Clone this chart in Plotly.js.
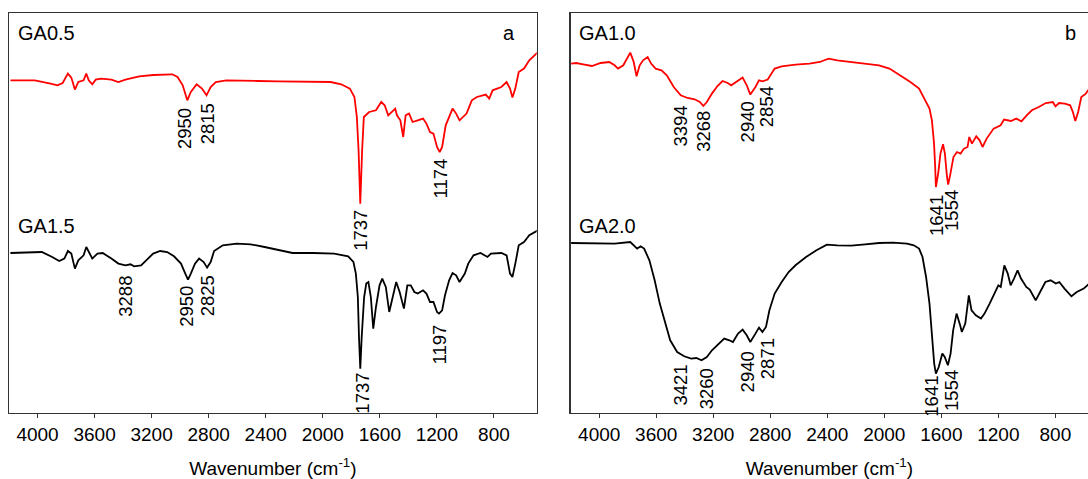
<!DOCTYPE html>
<html>
<head>
<meta charset="utf-8">
<script src="https://cdn.plot.ly/plotly-3.0.1.min.js"></script>
<style>html,body{margin:0;padding:0;background:#fff;}#chart{width:1088px;height:479px;}</style>
</head>
<body>
<div id="chart"></div>
<script>
// ---- Data (wavenumber in cm^-1, transmittance in arbitrary offset units) ----
const tickValues = [4000, 3600, 3200, 2800, 2400, 2000, 1600, 1200, 800];
const tickLabels = ["4000", "3600", "3200", "2800", "2400", "2000", "1600", "1200", "800"];
const axisTitle = "Wavenumber (cm<sup>-1</sup>)";
const seriesNames = ["GA0.5", "GA1.5", "GA1.0", "GA2.0"];
const panelLetters = ["a", "b"];

// GA0.5 (panel a, red)
const ga05_wn = [4190,4019,3909,3860,3824,3787,3763,3738,3714,3677,3658,3641,3616,3592,3555,3482,3433,3384,3287,3189,3055,3018,2982,2950,2925,2884,2847,2815,2786,2750,2676,2554,2457,2310,2066,1944,1871,1810,1778,1761,1749,1737,1724,1712,1675,1627,1590,1566,1541,1517,1492,1480,1456,1436,1419,1395,1370,1334,1297,1273,1248,1224,1199,1180,1163,1138,1090,1065,1041,992,955,919,857,833,809,748,711,687,670,650,626,589,552,491];
const ga05_t  = [332.7,332.7,329.4,327.7,330.0,339.4,335.4,323.4,331.0,332.7,339.4,332.7,328.7,333.4,334.4,333.4,331.0,333.4,336.7,338.0,338.7,336.0,327.7,312.7,321.0,328.7,324.4,317.7,326.0,331.0,332.7,332.7,332.0,331.7,331.7,331.0,328.7,324.4,316.0,296.0,262.7,209.4,262.7,296.0,301.0,302.7,311.0,307.7,297.7,301.0,304.4,297.7,292.7,276.0,297.7,299.4,291.0,292.7,294.4,289.4,281.0,279.4,266.0,261.0,266.0,287.7,304.4,299.4,292.7,299.4,312.7,316.0,318.4,314.4,322.7,326.0,331.0,324.4,315.4,324.4,341.0,344.4,352.7,361.0];

// GA1.5 (panel a, black)
const ga15_wn = [4190,3970,3897,3848,3812,3787,3763,3738,3714,3677,3658,3633,3616,3580,3543,3482,3433,3384,3348,3323,3274,3238,3189,3140,3091,3043,2994,2964,2945,2925,2896,2867,2835,2811,2786,2762,2701,2603,2505,2408,2310,2212,2066,1920,1822,1785,1768,1754,1746,1737,1727,1710,1695,1680,1663,1646,1627,1602,1583,1558,1534,1509,1485,1461,1431,1407,1383,1358,1334,1297,1273,1248,1224,1199,1185,1163,1143,1114,1090,1065,1041,1004,980,943,894,845,821,748,711,687,670,650,626,589,552,491];
const ga15_t  = [160.0,161.0,156.0,152.0,154.4,162.0,159.4,144.4,152.7,157.7,166.0,159.4,154.4,159.4,160.0,154.4,149.4,147.7,148.7,146.7,147.7,152.7,159.4,162.0,161.0,156.7,149.4,139.4,133.4,139.4,149.4,154.4,151.0,145.4,151.0,162.0,167.7,169.4,168.7,166.0,162.7,160.0,160.0,159.4,156.7,151.0,139.4,116.0,76.0,44.4,76.0,116.0,129.4,131.0,116.0,84.4,106.0,127.7,134.4,126.0,101.0,116.0,131.0,121.0,104.4,127.7,127.7,121.0,119.4,122.7,119.4,111.0,111.0,101.0,99.4,102.7,117.7,132.7,140.0,137.7,131.0,139.4,149.4,157.7,160.0,156.0,159.4,160.0,157.7,139.4,136.0,149.4,167.7,171.0,177.7,182.7];

// GA1.0 (panel b, red)
const ga10_wn = [4197,4161,4112,4051,3990,3929,3892,3868,3831,3782,3758,3738,3716,3692,3660,3636,3604,3563,3526,3477,3428,3380,3331,3294,3270,3245,3209,3172,3135,3099,3074,3038,2994,2965,2940,2904,2879,2854,2818,2769,2720,2623,2525,2452,2391,2330,2232,2134,2037,1964,1890,1817,1756,1719,1683,1666,1651,1643,1638,1622,1606,1588,1575,1560,1552,1536,1515,1490,1465,1441,1416,1404,1385,1355,1331,1311,1282,1233,1184,1160,1111,1075,1038,1001,965,916,867,818,799,774,733,696,677,660,640,618,586,562];
const ga10_t  = [349.4,350.0,348.7,347.0,350.0,351.0,347.7,344.4,347.7,360.4,351.0,336.7,347.7,352.7,356.0,349.4,344.4,342.7,337.7,326.0,317.7,315.0,313.7,311.0,307.0,311.0,319.4,326.7,332.0,330.0,327.7,331.0,335.4,327.7,318.4,326.0,332.7,331.7,333.4,344.4,346.7,348.4,349.4,351.0,354.4,352.7,351.0,349.4,347.7,344.4,337.7,331.0,324.4,314.4,304.4,292.7,269.4,246.0,226.0,239.4,259.4,268.7,259.4,236.0,228.4,239.4,256.0,261.0,259.4,264.4,266.0,276.0,269.4,276.7,272.7,266.0,274.4,284.4,287.7,293.4,292.0,294.4,291.7,297.7,302.7,306.0,310.0,311.0,306.7,310.0,309.4,307.7,301.0,292.0,301.0,316.0,319.4,324.4];

// GA2.0 (panel b, black)
const ga20_wn = [4197,4014,3892,3782,3758,3734,3709,3685,3648,3611,3575,3538,3502,3453,3404,3355,3319,3282,3245,3209,3160,3123,3087,3062,3026,2994,2965,2940,2904,2879,2855,2830,2806,2769,2720,2671,2623,2549,2476,2403,2330,2232,2134,2037,1939,1841,1793,1756,1732,1707,1683,1666,1650,1638,1618,1593,1576,1554,1535,1517,1493,1468,1456,1432,1407,1388,1358,1322,1297,1261,1224,1200,1183,1158,1134,1114,1090,1065,1041,1004,980,938,907,870,833,797,772,736,687,650,601,562];
const ga20_t  = [170.0,170.0,169.4,171.0,167.7,164.4,166.7,164.4,152.7,132.7,109.4,89.4,72.7,61.0,56.7,54.4,55.0,52.7,56.0,62.7,69.4,74.4,72.7,71.0,79.4,83.4,77.7,71.0,79.4,85.4,81.0,86.0,102.7,119.4,131.0,141.0,147.7,156.0,162.7,168.4,167.7,167.4,168.7,170.0,170.4,169.4,167.7,164.4,156.0,136.0,109.4,79.4,49.4,39.4,46.0,59.4,56.0,47.7,59.4,82.7,99.4,87.7,81.0,89.4,117.7,102.7,97.7,94.4,99.4,109.4,121.0,127.7,126.0,147.7,139.4,127.7,134.4,142.7,134.4,126.0,123.4,112.7,121.0,131.0,132.7,129.4,131.0,124.4,116.7,121.0,124.4,129.4];

// Peak labels: [panel, text, wavenumber position, transmittance position of label top]
const peakPanel = ["a","a","a","a", "a","a","a","a","a", "b","b","b","b","b","b", "b","b","b","b","b","b"];
const peakText  = ["2950","2815","1737","1174", "3288","2950","2825","1737","1197", "3394","3268","2940","2854","1641","1554", "3421","3260","2940","2871","1641","1554"];
const peakWn    = [2969,2806,1737,1175, 3385,2957,2806,1724,1182, 3433,3270,2957,2825,1634,1529, 3433,3245,2957,2818,1671,1529];
const peakT     = [306,311,204,256, 138,128,139,41,90, 308,303,313,328,219,224, 49,46,63,76,38,44];

// ---- Drawing ----
const RED = "#ff0000", BLACK = "#000000";
const traces = [
  {x: ga05_wn, y: ga05_t, xaxis: "x", yaxis: "y", name: seriesNames[0], line: {color: RED, width: 1.8}},
  {x: ga15_wn, y: ga15_t, xaxis: "x", yaxis: "y", name: seriesNames[1], line: {color: BLACK, width: 1.8}},
  {x: ga10_wn, y: ga10_t, xaxis: "x2", yaxis: "y2", name: seriesNames[2], line: {color: RED, width: 1.8}},
  {x: ga20_wn, y: ga20_t, xaxis: "x2", yaxis: "y2", name: seriesNames[3], line: {color: BLACK, width: 1.8}}
].map(t => Object.assign({type: "scatter", mode: "lines", hoverinfo: "skip", line: t.line}, t));

const FONT = "Liberation Sans, Arial, Helvetica, sans-serif";
const W = 1088, H = 479;
const frameColor = "#333333";

function xax(domain, range, mirror) {
  return {
    domain: domain, range: range, autorange: false,
    tickmode: "array", tickvals: tickValues, ticktext: tickLabels,
    ticks: "outside", ticklen: 4, tickwidth: 1, tickcolor: frameColor,
    tickfont: {family: FONT, size: 19, color: "#000"},
    showline: true, linecolor: frameColor, linewidth: 1.3, mirror: mirror,
    showgrid: false, zeroline: false,
    title: {text: axisTitle, font: {family: FONT, size: 19, color: "#000"}, standoff: 18}
  };
}
function yax(anchor, mirror) {
  return {
    anchor: anchor, domain: [0, 1], range: [0, 400], autorange: false,
    showticklabels: false, ticks: "", showgrid: false, zeroline: false,
    showline: true, linecolor: frameColor, linewidth: 1.3, mirror: mirror
  };
}

const annotations = [];
// Sample names & panel letters (paper coordinates)
const nameX = [16/W, 16/W, 577/W, 577/W];
const nameY = [(413-33)/400, (413-226)/400, (413-33)/400, (413-226)/400];
seriesNames.forEach((s, i) => annotations.push({
  text: s, xref: "paper", yref: "paper", x: nameX[i], y: nameY[i],
  xanchor: "left", yanchor: "middle", showarrow: false,
  font: {family: FONT, size: 20, color: "#000"}
}));
const letterX = [509/W, 1070/W];
panelLetters.forEach((s, i) => annotations.push({
  text: s, xref: "paper", yref: "paper", x: letterX[i], y: (413-33)/400,
  xanchor: "center", yanchor: "middle", showarrow: false,
  font: {family: FONT, size: 20, color: "#000"}
}));
// Peak labels
peakText.forEach((s, i) => {
  const p = peakPanel[i] === "a" ? "" : "2";
  annotations.push({
    text: s, xref: "x" + p, yref: "y" + p, x: peakWn[i], y: peakT[i],
    textangle: -90, xanchor: "center", yanchor: "top", showarrow: false,
    borderpad: 0, font: {family: FONT, size: 18.5, color: "#000"}
  });
});

const layout = {
  width: W, height: H,
  margin: {l: 0, r: 0, t: 13, b: 66, pad: 0},
  paper_bgcolor: "#ffffff", plot_bgcolor: "#ffffff",
  showlegend: false,
  font: {family: FONT, size: 19, color: "#000"},
  xaxis: Object.assign(xax([9/W, 536.7/W], [4200, 500], true), {anchor: "y"}),
  yaxis: yax("x", true),
  xaxis2: Object.assign(xax([570.7/W, 1], [4200, 571], true), {anchor: "y2"}),
  yaxis2: yax("x2", false),
  annotations: annotations
};

Plotly.newPlot("chart", traces, layout, {staticPlot: true, displayModeBar: false});
</script>
</body>
</html>
